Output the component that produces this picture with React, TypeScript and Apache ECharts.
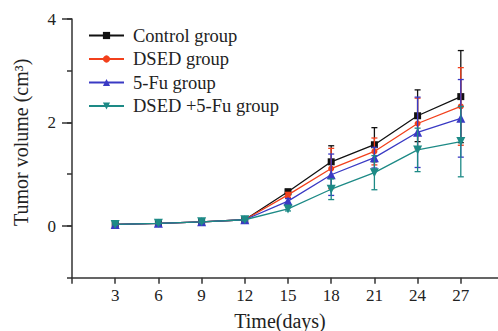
import React, { useEffect, useRef } from "react";
import * as echarts from "echarts";

const days = [3, 6, 9, 12, 15, 18, 21, 24, 27];
const seriesNames = ["Control group", "DSED group", "5-Fu group", "DSED +5-Fu group"];
const controlMean = [0.03, 0.05, 0.08, 0.12, 0.66, 1.24, 1.57, 2.13, 2.5];
const dsedMean = [0.03, 0.05, 0.08, 0.12, 0.6, 1.11, 1.44, 1.98, 2.31];
const fuMean = [0.03, 0.05, 0.08, 0.12, 0.48, 0.99, 1.32, 1.81, 2.08];
const comboMean = [0.03, 0.05, 0.08, 0.12, 0.33, 0.71, 1.03, 1.47, 1.63];
const controlSd = [0.01, 0.01, 0.02, 0.02, 0.05, 0.31, 0.33, 0.5, 0.89];
const dsedSd = [0.01, 0.01, 0.02, 0.02, 0.05, 0.39, 0.26, 0.49, 0.75];
const fuSd = [0.01, 0.01, 0.02, 0.02, 0.05, 0.4, 0.2, 0.68, 0.75];
const comboSd = [0.01, 0.01, 0.02, 0.02, 0.04, 0.2, 0.33, 0.42, 0.68];
const yTickLabels = [0, 2, 4];

const colors = ["#111111", "#f2401c", "#3a3ac4", "#1d8a86"];
const symbols = ["rect", "circle", "triangle", "triangle"];
const symbolSizes = [7, 6, 9, 9];
const symbolRotates = [0, 0, 0, 180];

const FONT = "'Liberation Serif', 'Times New Roman', serif";

export default function App() {
  const ref = useRef<HTMLDivElement>(null);
  useEffect(() => {
    if (!ref.current) return;
    const chart = echarts.init(ref.current, undefined, { renderer: "svg" });
    const means = [controlMean, dsedMean, fuMean, comboMean];
    const sds = [controlSd, dsedSd, fuSd, comboSd];

    const lineSeries = seriesNames.map((name, i) => ({
      name,
      type: "line",
      xAxisIndex: 0,
      yAxisIndex: 0,
      data: days.map((d, j) => [d, means[i][j]]),
      symbol: symbols[i],
      symbolSize: symbolSizes[i],
      symbolRotate: symbolRotates[i],
      itemStyle: { color: colors[i] },
      lineStyle: { color: colors[i], width: 1.3 },
      z: 3 + i,
    }));

    const errSeries = seriesNames.map((name, i) => ({
      name: "err-" + name,
      type: "custom",
      xAxisIndex: 0,
      yAxisIndex: 0,
      data: days.map((d, j) => [d, means[i][j] - sds[i][j], means[i][j] + sds[i][j]]),
      z: 3 + i,
      renderItem: (params: any, api: any) => {
        const x = api.value(0);
        const lo = api.coord([x, api.value(1)]);
        const hi = api.coord([x, api.value(2)]);
        const half = 3;
        const style = { stroke: colors[i], lineWidth: 1.3 };
        return {
          type: "group",
          children: [
            { type: "line", shape: { x1: lo[0], y1: lo[1], x2: hi[0], y2: hi[1] }, style },
            { type: "line", shape: { x1: hi[0] - half, y1: hi[1], x2: hi[0] + half, y2: hi[1] }, style },
            { type: "line", shape: { x1: lo[0] - half, y1: lo[1], x2: lo[0] + half, y2: lo[1] }, style },
          ],
        };
      },
    }));

    const axisLineStyle = { color: "#333", width: 1.5 };

    chart.setOption({
      animation: false,
      backgroundColor: "#ffffff",
      textStyle: { fontFamily: FONT },
      grid: [
        { left: 72, right: -6, top: 19, bottom: 53.3, containLabel: false, outerBoundsMode: "none" },
        { left: 72, right: -6, top: 19, height: 207, containLabel: false, outerBoundsMode: "none" },
      ],
      legend: {
        data: seriesNames,
        orient: "vertical",
        left: 88,
        top: 26,
        padding: 0,
        itemWidth: 35,
        itemHeight: 9,
        itemGap: 4.5,
        textStyle: {
          fontFamily: FONT,
          fontSize: 18.5,
          lineHeight: 18,
          color: "#222",
          padding: [0, 0, 0, 4],
        },
      },
      xAxis: [
        {
          type: "value",
          gridIndex: 0,
          min: 0,
          max: 30,
          interval: 3,
          name: "Time(days)",
          nameLocation: "middle",
          nameGap: 33,
          nameTextStyle: {
            fontFamily: FONT,
            fontSize: 20,
            lineHeight: 20,
            color: "#222",
            padding: [0, 16, 0, 0],
          },
          axisLine: { onZero: false, lineStyle: axisLineStyle },
          axisTick: { length: 6, lineStyle: axisLineStyle },
          axisLabel: {
            fontFamily: FONT,
            fontSize: 17,
            color: "#222",
            margin: 9,
            formatter: (v: number) => (days.indexOf(v) >= 0 ? String(v) : ""),
          },
          splitLine: { show: false },
        },
        {
          type: "value",
          gridIndex: 1,
          min: 0,
          max: 30,
          show: false,
        },
      ],
      yAxis: [
        {
          type: "value",
          gridIndex: 0,
          min: -1,
          max: 4,
          interval: 1,
          name: "Tumor volume (cm³)",
          nameLocation: "middle",
          nameGap: 41,
          nameTextStyle: {
            fontFamily: FONT,
            fontSize: 20,
            lineHeight: 20,
            color: "#222",
            padding: [0, 0, 0, 12],
          },
          axisLine: { onZero: false, lineStyle: axisLineStyle },
          axisTick: { length: 5, lineStyle: axisLineStyle },
          axisLabel: { show: false },
          splitLine: { show: false },
        },
        {
          type: "value",
          gridIndex: 1,
          min: 0,
          max: 4,
          interval: 2,
          axisLine: { show: false },
          axisTick: { length: 10, lineStyle: axisLineStyle },
          axisLabel: {
            fontFamily: FONT,
            fontSize: 17,
            color: "#222",
            margin: 16,
            formatter: (v: number) => (yTickLabels.indexOf(v) >= 0 ? String(v) : ""),
          },
          splitLine: { show: false },
        },
      ],
      series: [...errSeries, ...lineSeries],
    });
    return () => chart.dispose();
  }, []);
  return <div ref={ref} style={{ width: 498, height: 331, position: "absolute", left: 0, top: 0 }} />;
}
